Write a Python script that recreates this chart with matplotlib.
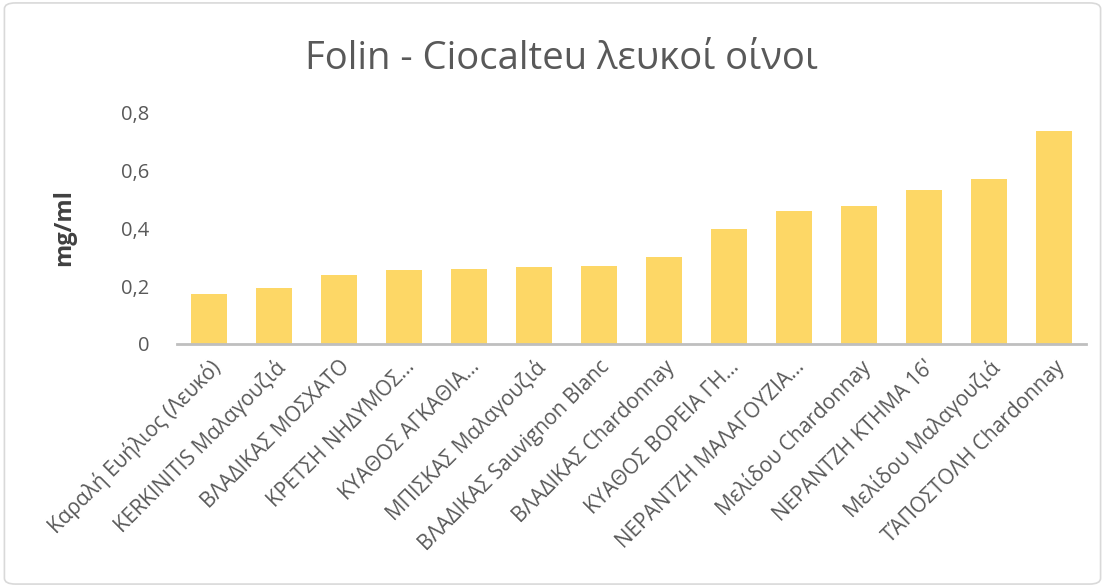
import matplotlib.pyplot as plt
from matplotlib.patches import FancyBboxPatch

# wine samples and Folin-Ciocalteu values (mg/ml)
wines = [
    "Καραλή Ευήλιος (Λευκό)",
    "KERKINITIS Μαλαγουζιά",
    "ΒΛΑΔΙΚΑΣ ΜΟΣΧΑΤΟ",
    "ΚΡΕΤΣΗ ΝΗΔΥΜΟΣ…",
    "ΚΥΑΘΟΣ ΑΓΚΑΘΙΑ…",
    "ΜΠΙΣΚΑΣ Μαλαγουζιά",
    "ΒΛΑΔΙΚΑΣ Sauvignon Blanc",
    "ΒΛΑΔΙΚΑΣ Chardonnay",
    "ΚΥΑΘΟΣ ΒΟΡΕΙΑ ΓΗ…",
    "ΝΕΡΑΝΤΖΗ ΜΑΛΑΓΟΥΖΙΑ…",
    "Μελίδου Chardonnay",
    "ΝΕΡΑΝΤΖΗ ΚΤΗΜΑ 16'",
    "Μελίδου Μαλαγουζιά",
    "ΤΆΠΟΣΤΟΛΗ Chardonnay",
]
values = [0.172, 0.193, 0.238, 0.255, 0.259, 0.265, 0.269, 0.300,
          0.397, 0.459, 0.476, 0.531, 0.569, 0.734]
yticks = [0, 0.2, 0.4, 0.6, 0.8]
ytick_labels = ["0", "0,2", "0,4", "0,6", "0,8"]

plt.rcParams['font.family'] = ['Open Sans', 'DejaVu Sans']
grey = '#595959'

fig = plt.figure(figsize=(11.05, 5.87), dpi=100)
border = FancyBboxPatch((0.004, 0.005), 0.992, 0.99, boxstyle="round,pad=0,rounding_size=0.01",
                        transform=fig.transFigure, facecolor='none', edgecolor='#d9d9d9',
                        lw=1.2, zorder=-1)
fig.patches.append(border)

ax = fig.add_axes([0.160, 0.414, 0.823, 0.395])
x = list(range(len(wines)))
ax.bar(x, values, width=0.55, color='#FDD766', zorder=2)

ax.set_xlim(-0.5, len(wines) - 0.5)
ax.set_ylim(0, 0.8)
ax.set_yticks(yticks)
ax.set_yticklabels(ytick_labels, fontsize=14.5, color=grey)
ax.set_xticks(x)
ax.set_xticklabels(wines, rotation=45, ha='right', va='top', rotation_mode='anchor',
                   fontsize=15, color=grey)
ax.tick_params(axis='both', length=0)
ax.tick_params(axis='y', pad=20)
ax.tick_params(axis='x', pad=9)

for s in ['top', 'right', 'left']:
    ax.spines[s].set_visible(False)
ax.spines['bottom'].set_color('#bfbfbf')
ax.spines['bottom'].set_linewidth(2)
ax.patch.set_alpha(0)

ax.set_ylabel("mg/ml", fontsize=17, fontweight='bold', color='#404040', labelpad=32)
fig.text(0.508, 0.9, "Folin - Ciocalteu λευκοί οίνοι", ha='center', va='center',
         fontsize=27.5, color=grey)

fig.savefig("out.png", dpi=100)
